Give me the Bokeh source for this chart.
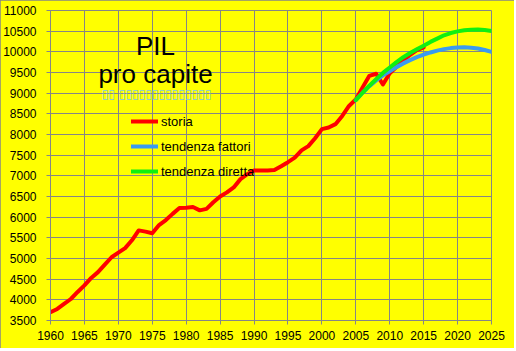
from bokeh.plotting import figure
from bokeh.models import Range1d, FixedTicker, Legend, LegendItem, Label
from bokeh.embed import file_html
from bokeh.resources import INLINE

# ---- data ----
anni_storia = list(range(1960, 2016))
storia = [3700, 3780, 3900, 4020, 4190, 4350, 4530, 4670, 4850, 5030,
          5140, 5250, 5440, 5680, 5650, 5610, 5810, 5930, 6080, 6220,
          6230, 6245, 6165, 6200, 6360, 6500, 6600, 6720, 6920, 7040,
          7130, 7130, 7130, 7140, 7230, 7330, 7440, 7615, 7720, 7910,
          8130, 8170, 8250, 8450, 8690, 8850, 9140, 9420, 9470, 9210,
          9480, 9640, 9790, 9930, 10040, 10110]
anni_tendenza = list(range(2005, 2026))
tendenza_fattori = [8830, 9010, 9170, 9310, 9430, 9530, 9630, 9720, 9800, 9870,
                    9930, 9985, 10030, 10065, 10090, 10105, 10110, 10100, 10080, 10045,
                    10000]
tendenza_diretta = [8830, 9010, 9180, 9340, 9490, 9620, 9750, 9870, 9970, 10060,
                    10150, 10240, 10320, 10400, 10455, 10495, 10520, 10535, 10538, 10528,
                    10505]
x_ticks = list(range(1960, 2026, 5))
y_ticks = list(range(3500, 11001, 500))
titolo1 = "PIL"
titolo2 = "pro capite"
sottotitolo = "\u25af\u25af \u25af\u25af\u25af\u25af\u25af\u25af\u25af\u25af\u25af\u25af\u25af\u25af\u25af\u25af"

YELLOW = "#ffff00"
GRID = "#868686"
FONT = "Liberation Sans"

p = figure(width=514, height=348, output_backend="svg", toolbar_location=None,
           x_range=Range1d(1960, 2025), y_range=Range1d(3500, 11000),
           min_border_left=49, min_border_right=23, min_border_top=10, min_border_bottom=28)
p.background_fill_color = YELLOW
p.border_fill_color = YELLOW
p.outline_line_color = GRID
p.outline_line_width = 1
p.styles = {"outline": "1px solid #868686", "outline-offset": "-1px"}

for ax in (p.xaxis[0], p.yaxis[0]):
    ax.axis_line_color = GRID
    ax.major_tick_line_color = GRID
    ax.major_tick_in = 0
    ax.major_tick_out = 4
    ax.minor_tick_line_color = None
    ax.major_label_text_font = FONT
    ax.major_label_text_font_size = "12px"
    ax.major_label_text_color = "#000000"
p.xaxis[0].ticker = FixedTicker(ticks=x_ticks)
p.yaxis[0].ticker = FixedTicker(ticks=y_ticks)
p.xaxis[0].major_label_standoff = 6
p.yaxis[0].major_label_standoff = 10

p.xgrid[0].ticker = FixedTicker(ticks=x_ticks)
p.ygrid[0].ticker = FixedTicker(ticks=y_ticks)
for g in (p.xgrid[0], p.ygrid[0]):
    g.grid_line_color = GRID
    g.grid_line_width = 1

r_storia = p.line(anni_storia, storia, line_color="#ff0000", line_width=4, line_join="round", line_cap="round")
r_fatt = p.line(anni_tendenza, tendenza_fattori, line_color="#3a9bf0", line_width=4, line_join="round", line_cap="round")
r_dir = p.line(anni_tendenza, tendenza_diretta, line_color="#10f010", line_width=4, line_join="round", line_cap="round")

legend = Legend(items=[LegendItem(label="storia", renderers=[r_storia]),
                       LegendItem(label="tendenza fattori", renderers=[r_fatt]),
                       LegendItem(label="tendenza diretta", renderers=[r_dir])],
                location=(81, 139), padding=0, margin=0, spacing=5,
                glyph_width=27, glyph_height=20, label_height=20, label_standoff=3,
                background_fill_alpha=0, border_line_alpha=0,
                label_text_font=FONT, label_text_font_size="13px", label_text_color="#000000")
p.add_layout(legend, "center")

p.add_layout(Label(x=105, y=275, x_units="screen", y_units="screen", text=titolo1,
                   text_font=FONT, text_font_size="26px", text_align="center",
                   text_baseline="alphabetic", text_color="#000000"))
p.add_layout(Label(x=105, y=247, x_units="screen", y_units="screen", text=titolo2,
                   text_font=FONT, text_font_size="26px", text_align="center",
                   text_baseline="alphabetic", text_color="#000000"))
p.add_layout(Label(x=106, y=227, x_units="screen", y_units="screen", text=sottotitolo,
                   text_font="DejaVu Sans", text_font_size="12px", text_align="center",
                   text_baseline="alphabetic", text_color="#80c4e4"))

open("out.html", "w").write(file_html(p, INLINE))
